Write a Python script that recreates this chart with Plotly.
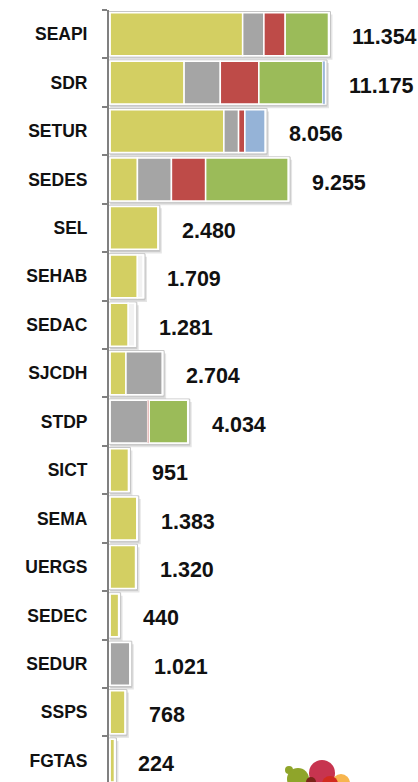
import plotly.graph_objects as go

# ---------------- data ----------------
categories = ["SEAPI", "SDR", "SETUR", "SEDES", "SEL", "SEHAB", "SEDAC", "SJCDH",
              "STDP", "SICT", "SEMA", "UERGS", "SEDEC", "SEDUR", "SSPS", "FGTAS"]
totals = [11354, 11175, 8056, 9255, 2480, 1709, 1281, 2704,
          4034, 951, 1383, 1320, 440, 1021, 768, 224]

seg_yellow = [6891, 3846, 5915, 1418, 2480, 1416, 941, 822, 0, 951, 1383, 1320, 440, 0, 768, 224]
seg_gray   = [1106, 1882, 764, 1769, 0, 0, 0, 1882, 1953, 0, 0, 0, 0, 1021, 0, 0]
seg_red    = [1106, 2006, 327, 1779, 0, 0, 0, 0, 77, 0, 0, 0, 0, 0, 0, 0]
seg_green  = [2251, 3321, 0, 4289, 0, 0, 0, 0, 2004, 0, 0, 0, 0, 0, 0, 0]
seg_blue   = [0, 120, 1050, 0, 0, 0, 0, 0, 0, 0, 0, 0, 0, 0, 0, 0]
seg_light  = [0, 0, 0, 0, 0, 293, 340, 0, 0, 0, 0, 0, 0, 0, 0, 0]

value_labels = [f"{v:,}".replace(",", ".") for v in totals]

series = [
    ("yellow", seg_yellow, "#D3CF62"),
    ("gray", seg_gray, "#A5A5A5"),
    ("red", seg_red, "#BE4B48"),
    ("green", seg_green, "#9BBB59"),
    ("blue", seg_blue, "#95B3D7"),
    ("light", seg_light, "#F2F2F2"),
]

# ---------------- styling constants ----------------
UPX = 52.0   # x data units per pixel
CPX = 48.4   # pixels per category
n = len(categories)

fig = go.Figure()

# soft shadow
fig.add_bar(y=categories, x=[t + 4 * UPX for t in totals], base=[0] * n,
            orientation="h", width=0.935, offset=-0.935 / 2 + 3 / CPX,
            marker=dict(color="rgba(0,0,0,0.10)", line=dict(width=0)),
            hoverinfo="skip")
fig.add_bar(y=categories, x=[t + 2.5 * UPX for t in totals], base=[0] * n,
            orientation="h", width=0.935, offset=-0.935 / 2 + 1.5 / CPX,
            marker=dict(color="rgba(0,0,0,0.10)", line=dict(width=0)),
            hoverinfo="skip")
# white frame with light outline
fig.add_bar(y=categories, x=[t + 4 * UPX for t in totals], base=[-2 * UPX] * n,
            orientation="h", width=0.935, offset=-0.935 / 2,
            marker=dict(color="white", line=dict(color="#C4C4C4", width=1)),
            hoverinfo="skip")

cum = [0] * n
for name, vals, col in series:
    xs, bs, lw = [], [], []
    for i, v in enumerate(vals):
        if v > 0:
            xs.append(v)
            bs.append(cum[i])
            cum[i] += v
        else:
            xs.append(None)
            bs.append(0)
        lw.append(0.4 if 0 < v < 200 else 1.5)
    fig.add_bar(y=categories, x=xs, base=bs, orientation="h", name=name,
                width=0.885, offset=-0.885 / 2,
                marker=dict(color=col, line=dict(color="white", width=lw)))

annotations = []
for cat, tot, lab in zip(categories, totals, value_labels):
    annotations.append(dict(
        x=tot, y=cat, text=lab, xanchor="left", yanchor="middle",
        xshift=22, yshift=-3, showarrow=False,
        font=dict(family="Liberation Sans, Arial, sans-serif",
                  size=21.5, color="#111111", weight="bold")))

# decorative logo (bottom right), paper coordinates
def circ(cx, cy, r, color, op=1.0):
    x0 = (cx - r - 109) / 309
    x1 = (cx + r - 109) / 309
    y0 = (782 - (cy + r)) / 771.5
    y1 = (782 - (cy - r)) / 771.5
    return dict(type="circle", xref="paper", yref="paper", x0=x0, x1=x1, y0=y0, y1=y1,
                fillcolor=color, line=dict(width=0), opacity=op, layer="above")

shapes = [
    circ(289, 770, 4, "#8FA52A"),
    circ(298, 779, 11, "#8FA52A"),
    circ(322, 773, 13, "#C7344F"),
    circ(341, 783, 9, "#F7B54E"),
    circ(330, 784, 8, "#D22B1E"),
    circ(311, 782, 5, "#7A2418"),
]

fig.update_layout(
    width=418, height=782,
    barmode="overlay",
    showlegend=False,
    plot_bgcolor="white", paper_bgcolor="white",
    margin=dict(l=109, r=0, t=10, b=0, autoexpand=False),
    xaxis=dict(range=[-60, 16010], visible=False, fixedrange=True, automargin=False),
    yaxis=dict(type="category", categoryorder="array", categoryarray=categories,
               range=[15.44, -0.5], showline=True, linecolor="#808080", linewidth=2,
               ticks="outside", tickson="boundaries", ticklen=5, tickcolor="#808080",
               tickwidth=1.5, showgrid=False, zeroline=False, ticklabelstandoff=16,
               automargin=False, fixedrange=True,
               tickfont=dict(family="Liberation Sans, Arial, sans-serif", size=17.5,
                             color="#111111", weight="bold")),
    annotations=annotations,
    shapes=shapes,
)

fig.write_html("out.html", config={"displayModeBar": False},
               post_script="document.body.style.margin='0';document.body.style.padding='0';")
